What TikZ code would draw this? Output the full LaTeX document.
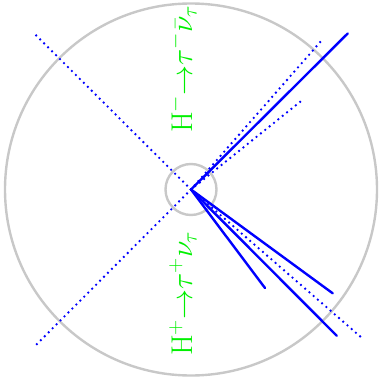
\RequirePackage{fix-cm}
\documentclass[tikz,border=0pt]{standalone}
\usepackage{xcolor}
\definecolor{ringgray}{RGB}{200,200,200}
\definecolor{lblgreen}{RGB}{0,240,0}
\begin{document}
\begin{tikzpicture}[x=1pt,y=-1pt,
  ring/.style={draw=ringgray,line width=2.4pt},
  jet/.style={draw=blue,line width=2.4pt,line cap=round},
  dotline/.style={draw=blue,line width=2.6pt,line cap=round,dash pattern=on 0pt off 5.6pt},
  lbl/.style={text=lblgreen,rotate=90,anchor=base west,inner sep=0pt,font=\fontsize{30}{36}\selectfont}]
\useasboundingbox (0,0) rectangle (380,385);
\coordinate (c) at (191,189.5);
\node[ring,circle,minimum size=372pt,inner sep=0pt] (outer) at (c) {};
\node[ring,circle,minimum size=51pt,inner sep=0pt] (inner) at (c) {};
% dotted lines
\coordinate (d1) at (35,34.3);
\coordinate (d2) at (35,346);
\coordinate (d3) at (362,338);
\coordinate (d4) at (322,40);
\coordinate (d5) at (303.3,99.3);
\foreach \p in {d1,d2,d3,d4,d5} \draw[dotline] (c) -- (\p);
% solid lines
\coordinate (s1) at (347.7,33.5);
\coordinate (s2) at (265,288);
\coordinate (s3) at (332.7,293.3);
\coordinate (s4) at (336.7,335.7);
\foreach \p in {s1,s2,s3,s4} \draw[jet] (c) -- (\p);
% labels
\node[lbl] (top) at (192,133) {$\mathrm{H}^-{\to}\tau^-\bar{\nu}_\tau$};
\node[lbl] (bot) at (192,356) {$\mathrm{H}^+{\to}\tau^+\nu_\tau$};
\end{tikzpicture}
\end{document}
